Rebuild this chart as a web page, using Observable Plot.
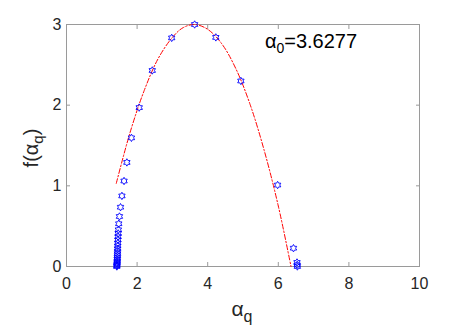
<!DOCTYPE html>
<html>
<head>
<meta charset="utf-8">
<script src="https://cdn.jsdelivr.net/npm/d3@7"></script>
<script src="https://cdn.jsdelivr.net/npm/@observablehq/plot@0.6"></script>
<style>
  html, body { margin: 0; padding: 0; background: #fff; }
  svg { display: block; }
</style>
</head>
<body>
<div id="chart"></div>
<script>
// Multifractal spectrum points (alpha_q, f(alpha_q))
const alphaQ = [1.425, 1.428, 1.43, 1.432, 1.434, 1.436, 1.438, 1.44, 1.442, 1.444, 1.446, 1.448, 1.45, 1.453, 1.456, 1.46, 1.465, 1.47, 1.48, 1.50, 1.53, 1.57, 1.63, 1.71, 1.84, 2.06, 2.43, 2.98, 3.63, 4.23, 4.94, 5.98, 6.43, 6.53, 6.535, 6.54];
const fAlpha = [0.00, 0.01, 0.02, 0.035, 0.05, 0.07, 0.09, 0.11, 0.135, 0.16, 0.19, 0.22, 0.255, 0.29, 0.33, 0.37, 0.41, 0.455, 0.53, 0.62, 0.735, 0.875, 1.06, 1.29, 1.595, 1.97, 2.43, 2.834, 3.00, 2.84, 2.30, 1.01, 0.227, 0.05, 0.02, 0.00];

// Fitted curve (red dash-dot)
const fitX = [1.41, 1.8, 2.2, 2.6, 3.0, 3.3, 3.63, 4.0, 4.4, 4.8, 5.2, 5.6, 6.0, 6.36];
const fitY = [1.03, 1.66, 2.18, 2.58, 2.84, 2.96, 3.00, 2.94, 2.76, 2.45, 2.01, 1.44, 0.75, 0.00];

const xTicks = [0, 2, 4, 6, 8, 10];
const yTicks = [0, 1, 2, 3];
const alpha0Text = "=3.6277";

const points = alphaQ.map((x, i) => ({x, y: fAlpha[i]}));
const fit = fitX.map((x, i) => ({x, y: fitY[i]}));

const hexagram = {
  draw(context, size) {
    const R = Math.sqrt(size / Math.PI);
    const r = R / Math.sqrt(3);
    for (let k = 0; k < 12; k++) {
      const a = (k * 30 - 90) * Math.PI / 180;
      const rr = k % 2 === 0 ? R : r;
      const px = rr * Math.cos(a), py = rr * Math.sin(a);
      if (k === 0) context.moveTo(px, py); else context.lineTo(px, py);
    }
    context.closePath();
  }
};

const axisColor = "#9a9a9a";
const textColor = "#262626";
const blank = () => "";
const intFmt = d3.format("d");

const plot = Plot.plot({
  width: 463,
  height: 329,
  marginLeft: 66,
  marginRight: 44,
  marginTop: 24,
  marginBottom: 63,
  style: {fontFamily: "'Liberation Sans', Arial, sans-serif", fontSize: "16px", background: "#fff"},
  x: {domain: [0, 10]},
  y: {domain: [0, 3]},
  marks: [
    Plot.frame({stroke: axisColor, strokeWidth: 1}),
    Plot.axisX({anchor: "bottom", ticks: xTicks, tickSize: -4, tickFormat: blank, label: null, stroke: axisColor}),
    Plot.axisX({anchor: "top", ticks: xTicks, tickSize: -4, tickFormat: blank, label: null, stroke: axisColor}),
    Plot.axisY({anchor: "left", ticks: yTicks, tickSize: -4, tickFormat: blank, label: null, stroke: axisColor}),
    Plot.axisY({anchor: "right", ticks: yTicks, tickSize: -4, tickFormat: blank, label: null, stroke: axisColor}),
    Plot.axisX({anchor: "bottom", ticks: xTicks, tickSize: 0, tickPadding: 11, tickFormat: intFmt, label: null, fontSize: 16, fill: textColor}),
    Plot.axisY({anchor: "left", ticks: yTicks, tickSize: 0, tickPadding: 5, tickFormat: intFmt, label: null, fontSize: 16, fill: textColor}),
    Plot.line(fit, {x: "x", y: "y", curve: "catmull-rom", stroke: "#ff0000", strokeWidth: 1, strokeDasharray: "5,2,1.5,2"}),
    Plot.dot(points, {x: "x", y: "y", symbol: hexagram, r: 3.7, stroke: "#0000ff", strokeWidth: 0.9, fill: "none"})
  ]
});

document.getElementById("chart").appendChild(plot);

const svg = d3.select(plot);
const font = "'Liberation Sans', Arial, sans-serif";

// y label f(alpha_q)
const yl = svg.append("text")
  .attr("transform", "translate(38,148) rotate(-90)")
  .attr("text-anchor", "middle")
  .attr("font-family", font).attr("font-size", 20).attr("fill", textColor);
yl.append("tspan").text("f(α");
yl.append("tspan").attr("dy", 5).attr("font-size", 15).text("q");
yl.append("tspan").attr("dy", -5).text(")");

// x label alpha_q
const xl = svg.append("text")
  .attr("x", 242).attr("y", 316)
  .attr("text-anchor", "middle")
  .attr("font-family", font).attr("font-size", 21).attr("fill", textColor);
xl.append("tspan").text("α");
xl.append("tspan").attr("dy", 6).attr("font-size", 16).text("q");

// annotation alpha_0 = 3.6277
const an = svg.append("text")
  .attr("x", 311).attr("y", 48)
  .attr("font-family", font).attr("font-size", 20).attr("fill", "#000");
an.append("tspan").text("α");
an.append("tspan").attr("dy", 5).attr("font-size", 14).text("0");
an.append("tspan").attr("dy", -5).text(alpha0Text);
</script>
</body>
</html>
